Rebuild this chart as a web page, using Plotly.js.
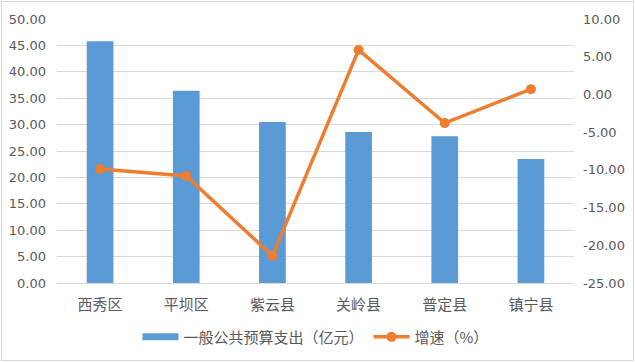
<!DOCTYPE html>
<html><head><meta charset="utf-8">
<script src="https://cdn.plot.ly/plotly-3.0.1.min.js"></script>
<style>
body{margin:0;padding:0;background:#fff;}
#wrap{position:relative;width:635px;height:362px;}
#chart{position:absolute;left:0;top:0;width:635px;height:362px;}
#frame{position:absolute;left:1px;top:1px;width:633px;height:360px;box-sizing:border-box;border:1px solid #d9d9d9;pointer-events:none;}
</style></head>
<body>
<div id="wrap"><div id="chart"></div><div id="frame"></div></div>
<script>
const categories = ['西秀区','平坝区','紫云县','关岭县','普定县','镇宁县'];
const expenditure = [45.8, 36.4, 30.5, 28.6, 27.8, 23.5];
const growth = [-9.9, -10.8, -21.4, 5.9, -3.8, 0.7];
const leftTicks = [0,5,10,15,20,25,30,35,40,45,50];
const rightTicks = [-25,-20,-15,-10,-5,0,5,10];
const seriesNames = ['一般公共预算支出（亿元）','增速（%）'];

const font = 'Noto Sans CJK SC, Noto Sans, sans-serif';
const data = [
  {type:'bar', x:categories, y:expenditure, name:seriesNames[0],
   marker:{color:'#5b9bd5'}, yaxis:'y', showlegend:false},
  // legend entry for the bars drawn as a wide flat swatch (like the reference)
  {type:'scatter', mode:'lines', x:[categories[0]], y:[null], name:seriesNames[0],
   line:{color:'#5b9bd5', width:7}, yaxis:'y', hoverinfo:'skip'},
  {type:'scatter', mode:'lines+markers', x:categories, y:growth, name:seriesNames[1],
   line:{color:'#ed7d31', width:3.5}, marker:{color:'#ed7d31', size:10}, yaxis:'y2'}
];
const layout = {
  width:635, height:362,
  margin:{l:57, r:61, t:19, b:79, autoexpand:false},
  paper_bgcolor:'#fff', plot_bgcolor:'#fff',
  bargap:0.69,
  font:{family:font, color:'#595959', size:13},
  xaxis:{type:'category', showgrid:false, showline:true, linecolor:'#d9d9d9', linewidth:1, automargin:false,
         ticks:'', ticklabelstandoff:8, tickfont:{size:15, color:'#595959', family:font}, fixedrange:true},
  yaxis:{range:[0,50], tickvals:leftTicks, ticktext:leftTicks.map(v=>v.toFixed(2)), automargin:false,
         showgrid:true, gridcolor:'#d9d9d9', gridwidth:1, zeroline:false, showline:false,
         ticks:'', ticklabelstandoff:10, tickfont:{size:13, color:'#595959', family:'DejaVu Sans, sans-serif'}},
  yaxis2:{range:[-25,10], overlaying:'y', side:'right', tickvals:rightTicks, automargin:false,
          ticktext:rightTicks.map(v=>v.toFixed(2)), showgrid:false, zeroline:false, showline:false,
          ticks:'', ticklabelstandoff:8, tickfont:{size:13, color:'#595959', family:'DejaVu Sans, sans-serif'}},
  showlegend:true,
  legend:{orientation:'h', x:0.5, xanchor:'center', y:-0.205, yanchor:'middle',
          font:{size:15, color:'#595959', family:font}, itemwidth:36, traceorder:'normal'}
};
Plotly.newPlot('chart', data, layout, {displayModeBar:false, staticPlot:true});
</script>
</body></html>
